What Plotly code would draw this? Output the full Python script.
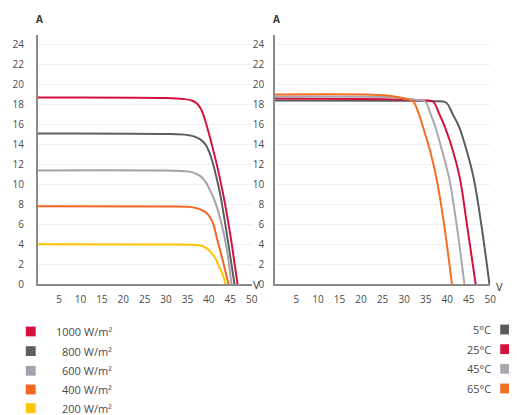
import plotly.graph_objects as go

# ---- data: irradiance curves (left) ----
irr_names = ["1000 W/m²", "800 W/m²", "600 W/m²", "400 W/m²", "200 W/m²"]
irr_colors = ["#d3123e", "#5b5f62", "#a3a3ab", "#f26522", "#fdc400"]
irr_v = [
    [0, 30, 34, 36, 37.2, 38.1, 39, 40.2, 41.8, 43.4, 45, 46.7],
    [0, 30, 35, 36.5, 38, 39.2, 40.3, 41.5, 42.7, 44.4, 46.0],
    [0, 30, 35, 36.8, 38.1, 39.3, 40.4, 41.5, 43, 44.2, 45.3],
    [0, 30, 35, 37.3, 38.7, 39.8, 40.9, 42, 42.7, 43.7, 44.6],
    [0, 30, 36, 38.3, 39.5, 40.5, 41.5, 42.5, 43.3, 43.9],
]
irr_i = [
    [18.7, 18.65, 18.55, 18.4, 18.1, 17.6, 16.6, 14.8, 12.1, 8.9, 5.0, 0],
    [15.1, 15.05, 14.95, 14.8, 14.5, 14.0, 13.0, 11.2, 8.9, 4.5, 0],
    [11.4, 11.38, 11.3, 11.1, 10.8, 10.2, 9.3, 8.2, 6.0, 3.5, 0],
    [7.8, 7.78, 7.75, 7.6, 7.35, 7.0, 6.2, 4.4, 3.3, 1.6, 0],
    [4.0, 3.99, 3.95, 3.85, 3.6, 3.2, 2.6, 1.7, 0.9, 0],
]

# ---- data: temperature curves (right) ----
temp_names = ["5°C", "25°C", "45°C", "65°C"]
temp_colors = ["#5a5c5e", "#d3123e", "#a8a8ae", "#f36f21"]
temp_v = [
    [0, 30, 37, 39.7, 41.3, 42.7, 44.5, 46.1, 47.9, 49.8],
    [0, 30, 34, 36.7, 38.1, 39.4, 41.3, 42.9, 44.5, 46.6],
    [0, 25, 30, 33, 34.9, 36.0, 37.2, 38.8, 40.4, 42.0, 44.0],
    [0, 20, 26, 29, 31, 32.1, 33.3, 34.4, 36.0, 37.6, 39.2, 41.1],
]
temp_i = [
    [18.4, 18.38, 18.33, 18.2, 17.0, 15.8, 13.4, 10.7, 6.0, 0],
    [18.6, 18.5, 18.4, 18.3, 17.1, 15.8, 13.4, 10.7, 6.2, 0],
    [18.8, 18.75, 18.6, 18.45, 18.3, 17.2, 15.8, 13.4, 10.7, 6.5, 0],
    [19.0, 19.0, 18.9, 18.7, 18.5, 18.3, 17.2, 15.7, 13.4, 10.4, 6.2, 0],
]

x_ticks = [5, 10, 15, 20, 25, 30, 35, 40, 45, 50]
y_ticks = [0, 2, 4, 6, 8, 10, 12, 14, 16, 18, 20, 22, 24]

fig = go.Figure()

for v, i, c, n in zip(irr_v, irr_i, irr_colors, irr_names):
    fig.add_trace(go.Scatter(x=v, y=i, mode="lines", name=n,
                             line=dict(color=c, width=2, shape="spline", smoothing=1.0),
                             xaxis="x", yaxis="y", showlegend=False))
for v, i, c, n in zip(temp_v, temp_i, temp_colors, temp_names):
    fig.add_trace(go.Scatter(x=v, y=i, mode="lines", name=n,
                             line=dict(color=c, width=2, shape="spline", smoothing=1.0),
                             xaxis="x2", yaxis="y2", showlegend=False))

W, H = 517, 415
fam = "Open Sans, DejaVu Sans, sans-serif"
font = dict(family=fam, size=10, color="#4a4a4a")
leg_font = dict(family=fam, size=11, color="#4a4a4a")

ydom = [(H - 281) / H, (H - 27) / H]
xdom1 = [30 / W, (30 + 50 * 4.33) / W]
xdom2 = [270 / W, (270 + 50 * 4.36) / W]

axis_common = dict(showline=True, linecolor="#8a8a8a", linewidth=1.5, zeroline=False,
                   ticks="", tickfont=font)
fig.update_layout(
    width=W, height=H, margin=dict(l=0, r=0, t=0, b=0),
    paper_bgcolor="white", plot_bgcolor="white",
    font=font,
    xaxis=dict(domain=xdom1, range=[0, 50], tickvals=x_ticks, showgrid=False,
               anchor="y", ticklabelstandoff=5, **axis_common),
    yaxis=dict(domain=ydom, range=[0, 25], tickvals=y_ticks, showgrid=True,
               gridcolor="#eef1f4", gridwidth=1, anchor="x", ticklabelstandoff=10,
               **axis_common),
    xaxis2=dict(domain=xdom2, range=[0, 50], tickvals=x_ticks, showgrid=False,
                anchor="y2", ticklabelstandoff=5, **axis_common),
    yaxis2=dict(domain=ydom, range=[0, 25], tickvals=y_ticks, showgrid=True,
                gridcolor="#eef1f4", gridwidth=1, anchor="x2", ticklabelstandoff=7,
                **axis_common),
)

annots = []
axis_lbl = dict(family=fam, size=10, color="#333")
v_font = dict(family=fam, size=11, color="#333")
for ax_x, ay, txt, f in [(32, 11, "<b>A</b>", axis_lbl), (272, 11, "<b>A</b>", axis_lbl),
                         (251, 281, "V", v_font), (497, 283, "V", v_font)]:
    annots.append(dict(x=ax_x / W, y=(H - ay) / H, xref="paper", yref="paper", text=txt,
                       showarrow=False, xanchor="center", yanchor="middle", font=f))

shapes = []
left_leg_y = [329, 349, 369, 388, 407]
for n, c, yy in zip(irr_names, irr_colors, left_leg_y):
    shapes.append(dict(type="rect", xref="paper", yref="paper",
                       x0=18 / W, x1=28 / W, y0=(H - yy - 5) / H, y1=(H - yy + 5) / H,
                       fillcolor=c, line=dict(width=0)))
    annots.append(dict(x=107 / W, y=(H - yy) / H, xref="paper", yref="paper", text=n,
                       xanchor="right", yanchor="middle", showarrow=False, font=leg_font))
right_leg_y = [327, 347, 367, 387]
for n, c, yy in zip(temp_names, temp_colors, right_leg_y):
    shapes.append(dict(type="rect", xref="paper", yref="paper",
                       x0=498 / W, x1=508 / W, y0=(H - yy - 5) / H, y1=(H - yy + 5) / H,
                       fillcolor=c, line=dict(width=0)))
    annots.append(dict(x=491 / W, y=(H - yy) / H, xref="paper", yref="paper", text=n,
                       xanchor="right", yanchor="middle", showarrow=False, font=leg_font))

fig.update_layout(annotations=annots, shapes=shapes)
fig.write_html("out.html")
